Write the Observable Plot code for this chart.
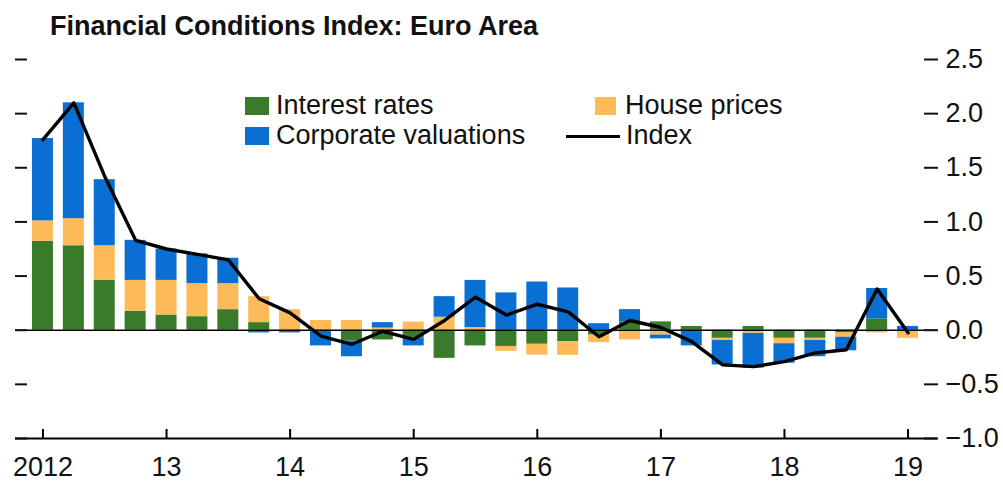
<!DOCTYPE html>
<html>
<head>
<meta charset="utf-8">
<script src="https://cdn.jsdelivr.net/npm/d3@7"></script>
<script src="https://cdn.jsdelivr.net/npm/@observablehq/plot@0.6"></script>
<style>
  html, body { margin: 0; padding: 0; background: #fff; }
  #wrap { position: relative; width: 1003px; height: 482px; font-family: "Liberation Sans", Arial, sans-serif; color: #111; }
  #title { height: 40px; box-sizing: border-box; padding: 13px 0 0 50px; font-size: 27px; line-height: 27px; font-weight: bold; white-space: nowrap; }
  .lg { position: absolute; font-size: 27px; line-height: 27px; white-space: nowrap; }
  .sw { position: absolute; }
</style>
</head>
<body>
<div id="wrap">
  <div id="title">Financial Conditions Index: Euro Area</div>
  <div id="chart"></div>
  <div id="legend"></div>
</div>
<script>
const quarters = [
  "2012Q1","2012Q2","2012Q3","2012Q4",
  "2013Q1","2013Q2","2013Q3","2013Q4",
  "2014Q1","2014Q2","2014Q3","2014Q4",
  "2015Q1","2015Q2","2015Q3","2015Q4",
  "2016Q1","2016Q2","2016Q3","2016Q4",
  "2017Q1","2017Q2","2017Q3","2017Q4",
  "2018Q1","2018Q2","2018Q3","2018Q4",
  "2019Q1"
];
const interestRates = [
  0.82, 0.78, 0.46, 0.175,
  0.14, 0.125, 0.19, 0.07,
  0.0, 0.0, -0.10, -0.09,
  -0.07, -0.26, -0.145, -0.15,
  -0.13, -0.107, -0.045, 0.077,
  0.077, 0.035, -0.075, 0.035,
  -0.075, -0.075, -0.025, 0.105,
  0.0
];
const housePrices = [
  0.19, 0.25, 0.32, 0.285,
  0.32, 0.305, 0.24, 0.24,
  0.19, 0.09, 0.09, 0.02,
  0.075, 0.12, 0.025, -0.045,
  -0.10, -0.125, -0.07, -0.09,
  -0.045, 0.0, -0.02, -0.03,
  -0.05, -0.02, -0.04, -0.025,
  -0.075
];
const corporateValuations = [
  0.76, 1.07, 0.61, 0.37,
  0.29, 0.275, 0.235, -0.025,
  -0.025, -0.145, -0.145, 0.05,
  -0.075, 0.19, 0.435, 0.345,
  0.445, 0.39, 0.06, 0.113,
  -0.035, -0.145, -0.226, -0.32,
  -0.18, -0.15, -0.125, 0.28,
  0.035
];
const indexValues = [
  1.76, 2.10, 1.42, 0.83,
  0.75, 0.70, 0.65, 0.29,
  0.16, -0.055, -0.13, -0.01,
  -0.085, 0.09, 0.305, 0.14,
  0.24, 0.17, -0.06, 0.09,
  0.025, -0.105, -0.32, -0.336,
  -0.29, -0.21, -0.18, 0.38,
  -0.024
];
const yearTicks = ["2012Q1","2013Q1","2014Q1","2015Q1","2016Q1","2017Q1","2018Q1","2019Q1"];
const yearTickLabels = ["2012","13","14","15","16","17","18","19"];
const yTicks = [2.5, 2.0, 1.5, 1.0, 0.5, 0.0, -0.5, -1.0];
const seriesNames = ["Interest rates", "House prices", "Corporate valuations"];
const seriesColors = ["#3a7a2b", "#fdba58", "#0a6fd2"];
const indexName = "Index";

const seriesValues = [interestRates, housePrices, corporateValuations];
const bars = [];
quarters.forEach((q, i) => {
  seriesNames.forEach((s, k) => bars.push({q, series: s, value: seriesValues[k][i]}));
});
const indexData = quarters.map((q, i) => ({q, value: indexValues[i]}));
const labelOf = new Map(yearTicks.map((t, i) => [t, yearTickLabels[i]]));
const fmt = d => d.toFixed(1).replace("-", "\u2212");

const chart = Plot.plot({
  width: 1003,
  height: 442,
  marginTop: 19,
  marginBottom: 44,
  marginLeft: 27,
  marginRight: 80,
  style: {fontFamily: '"Liberation Sans", Arial, sans-serif', fontSize: "27px", color: "#111", background: "#fff"},
  x: {domain: quarters, paddingInner: 0.32, paddingOuter: 0.16, align: 0.5, round: false},
  y: {domain: [-1, 2.5]},
  color: {domain: seriesNames, range: seriesColors},
  marks: [
    Plot.barY(bars, {x: "q", y: "value", fill: "series"}),
    Plot.ruleY([0], {stroke: "#000", strokeWidth: 1.6, insetLeft: -12, insetRight: -14}),
    Plot.ruleY([-1], {stroke: "#000", strokeWidth: 2, insetLeft: -12, insetRight: -14}),
    Plot.ruleX(yearTicks, {x: d => d, y1: -1, y2: -1, insetTop: -9, stroke: "#000", strokeWidth: 2}),
    Plot.line(indexData, {x: "q", y: "value", stroke: "#000", strokeWidth: 3.4, strokeLinejoin: "round"}),
    Plot.axisY(yTicks, {anchor: "left", label: null, tickSize: 12, tickFormat: () => "", strokeWidth: 2}),
    Plot.axisY(yTicks, {anchor: "right", label: null, tickSize: 14, tickPadding: 8, tickFormat: fmt, strokeWidth: 2, fill: "#111"}),
    Plot.axisX(yearTicks, {anchor: "bottom", label: null, tickSize: 0, tickPadding: 18, tickFormat: d => labelOf.get(d), fill: "#111"})
  ]
});
document.getElementById("chart").appendChild(chart);

// Legend (overlaid on the plot area)
const legend = document.getElementById("legend");
const items = [
  {kind: "swatch", color: seriesColors[0], left: 245, top: 97, w: 24, h: 18},
  {kind: "text", text: seriesNames[0], left: 276, top: 92},
  {kind: "swatch", color: seriesColors[2], left: 245, top: 127, w: 24, h: 18},
  {kind: "text", text: seriesNames[2], left: 276, top: 122},
  {kind: "swatch", color: seriesColors[1], left: 595, top: 97, w: 21, h: 18},
  {kind: "text", text: seriesNames[1], left: 625, top: 92},
  {kind: "swatch", color: "#000", left: 566, top: 134.5, w: 54, h: 3},
  {kind: "text", text: indexName, left: 626, top: 122}
];
items.forEach(it => {
  const el = document.createElement("div");
  if (it.kind === "swatch") {
    el.className = "sw";
    Object.assign(el.style, {left: it.left + "px", top: it.top + "px", width: it.w + "px", height: it.h + "px", background: it.color});
  } else {
    el.className = "lg";
    el.textContent = it.text;
    Object.assign(el.style, {left: it.left + "px", top: it.top + "px"});
  }
  legend.appendChild(el);
});
</script>
</body>
</html>
